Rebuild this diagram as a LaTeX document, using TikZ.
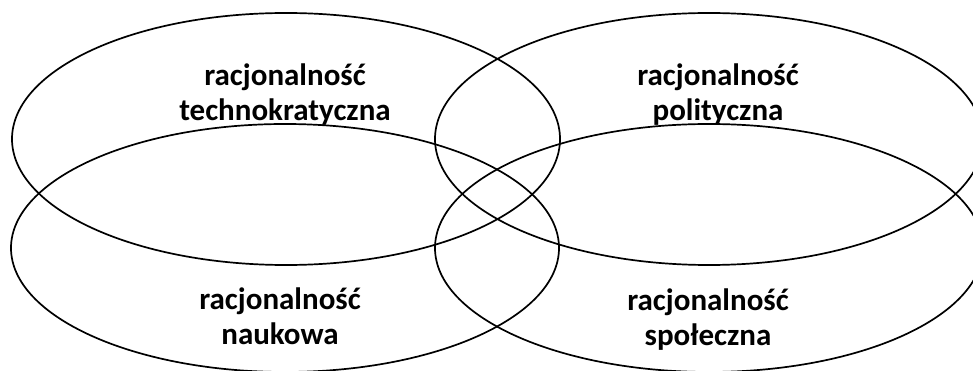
\documentclass[tikz,border=0pt]{standalone}
\usepackage{fontspec}
\setmainfont{Carlito}
\usepackage{tikz}

\begin{document}
\begin{tikzpicture}[x=1pt, y=-1pt,
    ring/.style={draw, line width=1.7pt},
    label/.style={align=center, font=\bfseries\fontsize{31}{35}\selectfont}]
                    \useasboundingbox (0,0) rectangle (973,371);
                    % Ellipses
                    \draw[ring] (286,139) ellipse [x radius=274, y radius=126];
                    \draw[ring] (709,139) ellipse [x radius=274, y radius=126];
                    \draw[ring] (285,248) ellipse [x radius=274, y radius=124];
                    \draw[ring] (709,248) ellipse [x radius=274, y radius=124];
                    % Labels
                    \node[label] (techno) at (285,95) {racjonalność\\technokratyczna};
                    \node[label] (polit) at (718,95) {racjonalność\\polityczna};
                    \node[label] (nauk) at (280,316) {racjonalność\\naukowa};
                    \node[label] (spol) at (708,320) {racjonalność\\społeczna};
\end{tikzpicture}
\end{document}
